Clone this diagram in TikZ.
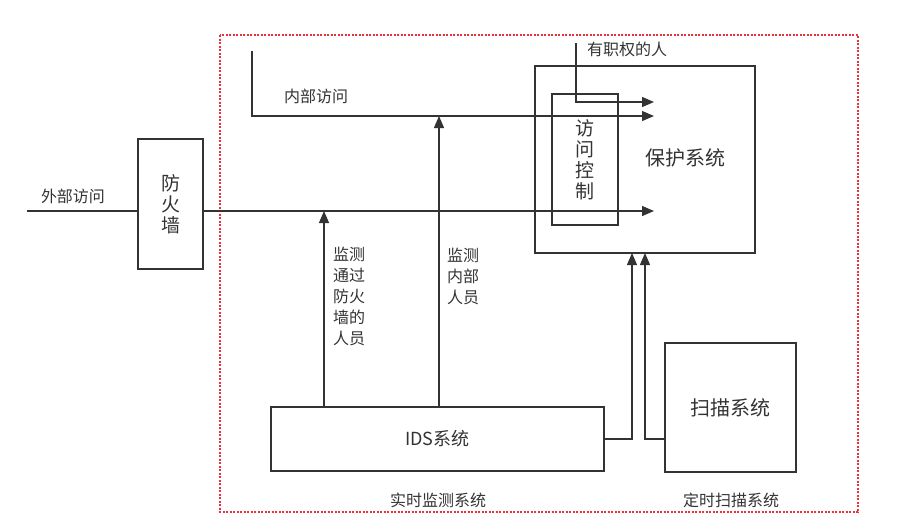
\documentclass[tikz,border=0pt]{standalone}
\usepackage{fontspec}
\newfontfamily\cjk{Noto Sans CJK SC}
\usetikzlibrary{arrows.meta,positioning,calc}
\definecolor{ink}{HTML}{333333}
\definecolor{zone}{HTML}{E8323C}

\begin{document}
\begin{tikzpicture}[x=1pt, y=-1pt,
  box/.style={draw=ink, line width=1.4pt, inner sep=0pt, align=center,
              text=ink, font=\cjk\fontsize{19}{21}\selectfont},
  lbl/.style={text=ink, inner sep=0pt, align=center,
              font=\cjk\fontsize{16}{21}\selectfont},
  big/.style={lbl, font=\cjk\fontsize{20}{22}\selectfont},
  flow/.style={draw=ink, line width=1.3pt, -{Triangle[length=12pt,width=10pt]}},
  wire/.style={draw=ink, line width=1.3pt}]
  \useasboundingbox (0,0) rectangle (911,523);
  % the zone that is protected
  \draw[zone, line width=1.4pt, dash pattern=on 2pt off 1.5pt] (220,35) rectangle (858,512);

  \node[box, minimum width=65pt, minimum height=130pt] (fw) at (170.5,204) {防\\火\\墙};
  \node[box, minimum width=220pt, minimum height=187pt] (prot) at (645,159.5) {};
  \node[big] (protlbl) at (685,158) {保护系统};
  \node[box, minimum width=66pt, minimum height=131pt] (ac) at (585,159.5) {访\\问\\控\\制};
  \node[box, minimum width=333pt, minimum height=64pt, font=\cjk\fontsize{18}{20}\selectfont]
    (ids) at (437.5,439) {IDS系统};
  \node[box, font=\cjk\fontsize{20}{22}\selectfont, minimum width=131pt, minimum height=129pt]
    (scan) at (730.5,407.5) {扫描系统};

  \node[lbl] (ext) at (73,196) {外部访问};
  \node[lbl] (int) at (316,96) {内部访问};
  \node[lbl] (auth) at (627,49) {有职权的人};
  \node[lbl, align=left] (mon1lbl) at (349,296) {监测\\通过\\防火\\墙的\\人员};
  \node[lbl, align=left] (mon2lbl) at (463,276) {监测\\内部\\人员};
  \node[lbl] (rt) at (438,500) {实时监测系统};
  \node[lbl] (tm) at (731,500) {定时扫描系统};

  \coordinate (extstart) at (27,211);
  \coordinate (tip1) at (654,211);
  \coordinate (instart) at (252,51);
  \coordinate (tip2) at (654,116);
  \coordinate (authstart) at (576,43);
  \coordinate (tip3) at (654,102);
  \coordinate (mon1) at (324,211);
  \coordinate (mon2) at (439,116);
  \coordinate (pin1) at (632,253);
  \coordinate (pin2) at (645,253);

  \draw[wire] (extstart) -- (fw.west |- extstart);
  \draw[flow] (fw.east |- extstart) -- (tip1);
  \draw[flow] (instart) |- (tip2);
  \draw[flow] (authstart) |- (tip3);
  \draw[flow] (ids.north -| mon1) -- (mon1);
  \draw[flow] (ids.north -| mon2) -- (mon2);
  \draw[flow] (ids.east) -| (pin1);
  \draw[flow] (scan.west |- ids.east) -| (pin2);
\end{tikzpicture}
\end{document}
